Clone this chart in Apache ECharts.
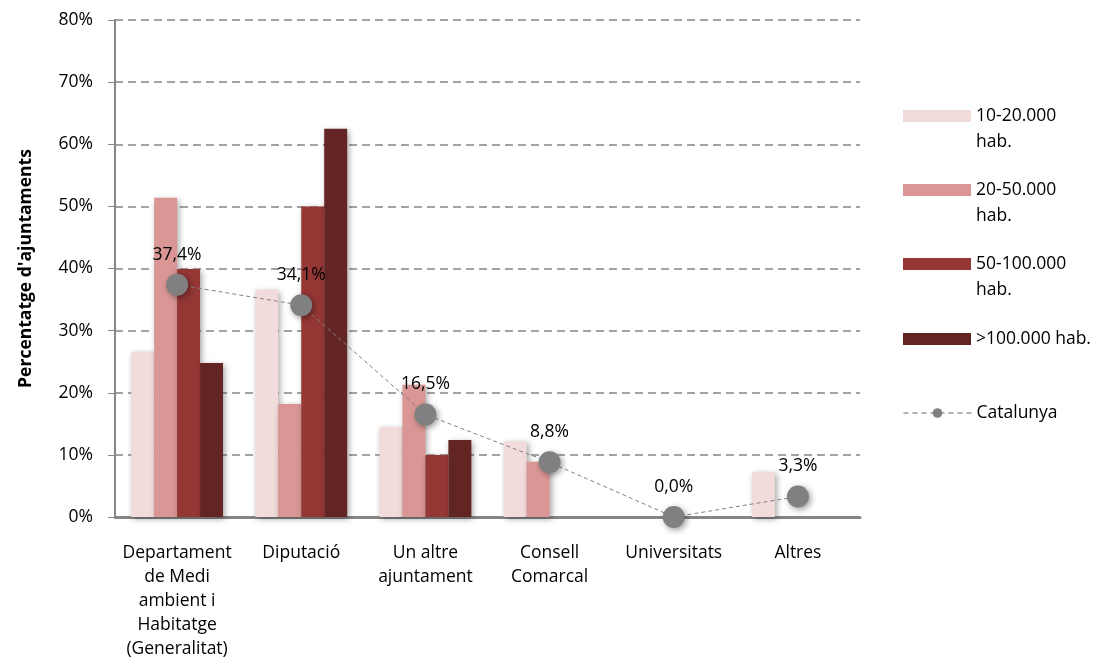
<!DOCTYPE html>
<html><head><meta charset="utf-8">
<script src="https://cdn.jsdelivr.net/npm/echarts@6/dist/echarts.min.js"></script>
<style>html,body{margin:0;padding:0;background:#fff}#c{width:1102px;height:666px}</style>
</head><body><div id="c"></div>
<script>
const categories = ['Departament\nde Medi\nambient i\nHabitatge\n(Generalitat)', 'Diputació', 'Un altre\najuntament', 'Consell\nComarcal', 'Universitats', 'Altres'];
const s10_20 = [26.6, 36.6, 14.5, 12.2, 0, 7.3];
const s20_50 = [51.4, 18.2, 21.3, 8.9, 0, 0];
const s50_100 = [39.9, 50.0, 10.0, 0, 0, 0];
const s100 = [24.8, 62.5, 12.4, 0, 0, 0];
const catalunya = [37.4, 34.1, 16.5, 8.8, 0.0, 3.3];
const yTicks = [0, 10, 20, 30, 40, 50, 60, 70, 80];

const FONT = 'Open Sans';
const FS = 17.5;
const names = ['10-20.000\nhab.', '20-50.000\nhab.', '50-100.000\nhab.', '>100.000 hab.', 'Catalunya'];
const colors = ['#F2DCDB', '#D99694', '#953735', '#632523'];
const barData = [s10_20, s20_50, s50_100, s100];

const shadow = {shadowColor: 'rgba(0,0,0,0.35)', shadowBlur: 6, shadowOffsetX: 2, shadowOffsetY: 2};

const series = barData.map((d, i) => ({
  name: names[i], type: 'bar', data: d, barGap: '0%', barCategoryGap: '26%',
  itemStyle: Object.assign({color: colors[i]}, shadow)
}));
series.push({
  name: 'Catalunya', type: 'line', data: catalunya, symbol: 'circle', symbolSize: 22,
  lineStyle: {color: '#808080', width: 1, type: [4, 3]},
  itemStyle: {color: '#808080', shadowColor: 'rgba(0,0,0,0.4)', shadowBlur: 6, shadowOffsetX: 2, shadowOffsetY: 2},
  label: {show: true, position: 'top', distance: 10, fontFamily: FONT, fontSize: FS, color: '#000',
    formatter: p => p.value.toFixed(1).replace('.', ',') + '%'},
  z: 5
});

const legendCenters = [116, 190, 264, 339, 413];
const legends = names.map((n, i) => {
  const multi = n.indexOf('\n') >= 0;
  const lg = {
    data: [n], left: 903, top: legendCenters[i] - (multi ? 39 : 13), orient: 'vertical', padding: 0,
    itemWidth: 68, itemHeight: 12, itemGap: 0,
    formatter: name => multi ? '\u00a0\n' + name : name,
    textStyle: {fontFamily: FONT, fontSize: FS, color: '#000', lineHeight: 26}
  };
  if (i < 4) lg.icon = 'rect';
  else {
    lg.lineStyle = {type: [5, 4], width: 1, color: '#666'};
    lg.itemStyle = {color: '#808080'};
  }
  return lg;
});

const chart = echarts.init(document.getElementById('c'));
chart.setOption({
  animation: false,
  legend: legends,
  grid: {left: 115, right: 242, top: 20, bottom: 149},
  xAxis: {
    type: 'category', data: categories,
    axisLine: {lineStyle: {color: '#868686', width: 3}},
    axisTick: {show: false},
    axisLabel: {fontFamily: FONT, fontSize: FS, color: '#000', lineHeight: 24, margin: 24, interval: 0}
  },
  yAxis: {
    type: 'value', min: 0, max: 80, interval: 10,
    name: "Percentatge d'ajuntaments", nameLocation: 'middle', nameGap: 80, nameRotate: 90,
    nameTextStyle: {fontFamily: FONT, fontSize: FS, fontWeight: 'bold', color: '#000'},
    axisLine: {show: true, lineStyle: {color: '#868686', width: 2}},
    axisTick: {show: true, length: 7, lineStyle: {color: '#868686'}},
    axisLabel: {fontFamily: FONT, fontSize: FS, color: '#000', margin: 22,
      formatter: v => yTicks.includes(v) ? v + '%' : ''},
    splitLine: {show: true, lineStyle: {color: '#868686', width: 1.5, type: [8, 5]}}
  },
  series: series
});
</script></body></html>
